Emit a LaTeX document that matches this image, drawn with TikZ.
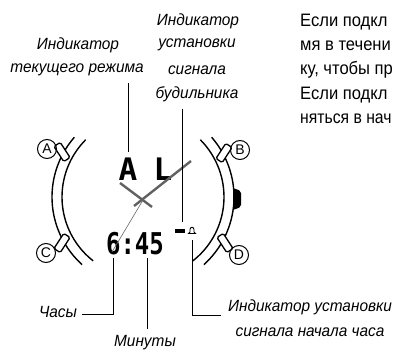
\documentclass[tikz,border=0pt]{standalone}
\usepackage{fontspec}
\setmainfont{Liberation Sans}
\newfontfamily\labfont[FakeStretch=0.95]{Liberation Sans Italic}
\newfontfamily\parafont[FakeStretch=0.92]{Liberation Sans}
\newfontfamily\lcdfont{DejaVu Sans Mono}
\tikzset{
 lab/.style={inner sep=0pt,font=\labfont\fontsize{16.2}{16}\selectfont,anchor=center},
 para/.style={inner sep=0pt,font=\parafont\fontsize{18}{18}\selectfont,anchor=west},
 lead/.style={line width=1pt,black},
 bez/.style={line width=1.4pt,black},
 btn/.style={draw=black,line width=1.3pt,fill=white,rounded corners=1.5pt,minimum width=18pt,minimum height=7.5pt,inner sep=0pt},
 letter/.style={circle,draw=black,line width=1pt,minimum size=19pt,inner sep=0pt,font=\fontsize{14}{14}\selectfont},
 lcd/.style={inner sep=0pt,font=\lcdfont\bfseries\fontsize{31}{31}\selectfont},
 lcdb/.style={inner sep=0pt,font=\lcdfont\bfseries\fontsize{24}{24}\selectfont},
 hand/.style={line width=2.4pt,black!62},
}
\begin{document}
\begin{tikzpicture}[x=1pt,y=-1pt]
\useasboundingbox (0,0) rectangle (393,350);
% bezel
\draw[bez] plot[domain=139:228,samples=40] ({143+91*cos(\x)},{197-91*sin(\x)});
\draw[bez] plot[domain=135:232,samples=40] ({143+81*cos(\x)},{197-81*sin(\x)});
\draw[bez] plot[domain=-48:41,samples=40] ({143+91*cos(\x)},{197-91*sin(\x)});
\draw[bez] plot[domain=-52:45,samples=40] ({143+81*cos(\x)},{197-81*sin(\x)});
\node[btn,rotate=-57] (btnA) at (62,152) {};
\node[btn,rotate=57] (btnC) at (62,243) {};
\node[btn,rotate=57] (btnB) at (224,153) {};
\node[btn,rotate=-57] (btnD) at (225,243) {};
\fill[black,rounded corners=2pt] (233,188) -- (241,191) -- (241,207) -- (233,210) -- cycle;
\node[letter] (la) at (47,149) {A};
\node[letter] (lb) at (240,150) {B};
\node[letter] (lc) at (46,253) {C};
\node[letter] (ld) at (239,255) {D};
% display
\node[lcd] (mode) at (128,169) {A};
\node[lcd] (alm) at (163,169) {L};
\node[lcdb] (clock) at (135,244) {\scalebox{1}[1.25]{6:45}};
% hands
\coordinate (hub) at (143,200);
\coordinate (minTip) at (191,161);
\coordinate (minTail) at (134,206);
\coordinate (hourTip) at (120,183);
\coordinate (hourTail) at (152,207);
\coordinate (secTip) at (112,252);
\draw[hand] (minTail) -- (minTip);
\draw[hand] (hourTail) -- (hourTip);
\draw[line width=0.6pt,black!60] (hub) -- (secTip);
% alarm marks
\node[inner sep=0pt,minimum width=10pt,minimum height=3.5pt,fill=black] (marks) at (180,231) {};
\coordinate (bell) at (192,231);
\draw[line width=0.9pt,fill=white] (188.5,233.5) -- (190,232) -- (190,229.5) .. controls (190.5,226.5) and (193.5,226.5) .. (194,229.5) -- (194,232) -- (195.5,233.5) -- cycle;
% labels
\node[lab] (l1) at (78,45) {Индикатор};
\node[lab] (l2) at (77,70) {текущего режима};
\node[lab] (r1) at (198,21) {Индикатор};
\node[lab] (r2) at (197,45) {установки};
\node[lab] (r3) at (197,70) {сигнала};
\node[lab] (r4) at (197,94) {будильника};
\node[lab] (hrs) at (58,312) {Часы};
\node[lab] (mins) at (145,343) {Минуты};
\node[lab] (ch1) at (310,307) {Индикатор\ установки};
\node[lab] (ch2) at (310,332) {сигнала начала часа};
% paragraph
\node[para] (p1) at (300,22) {Если подкл};
\node[para] (p2) at (300,46) {мя в течени};
\node[para] (p3) at (300,70) {ку, чтобы пр};
\node[para] (p4) at (300,95) {Если подкл};
\node[para] (p5) at (300,119) {\scalebox{0.95}[1]{няться в нач}};
% leaders
\coordinate (a1) at (128,83);
\coordinate (a2) at (128,152);
\coordinate (b1) at (182,109);
\coordinate (b2) at (182,222);
\coordinate (c1) at (113,258);
\coordinate (c2) at (113,314);
\coordinate (c3) at (82,314);
\coordinate (d1) at (147,258);
\coordinate (d2) at (147,329);
\coordinate (e1) at (192,240);
\coordinate (e2) at (192,315);
\coordinate (e3) at (221,315);
\draw[lead] (a1) -- (a2);
\draw[lead] (b1) -- (b2);
\draw[lead] (c1) -- (c2) -- (c3);
\draw[lead] (d1) -- (d2);
\draw[lead] (e1) -- (e2) -- (e3);
\end{tikzpicture}
\end{document}
